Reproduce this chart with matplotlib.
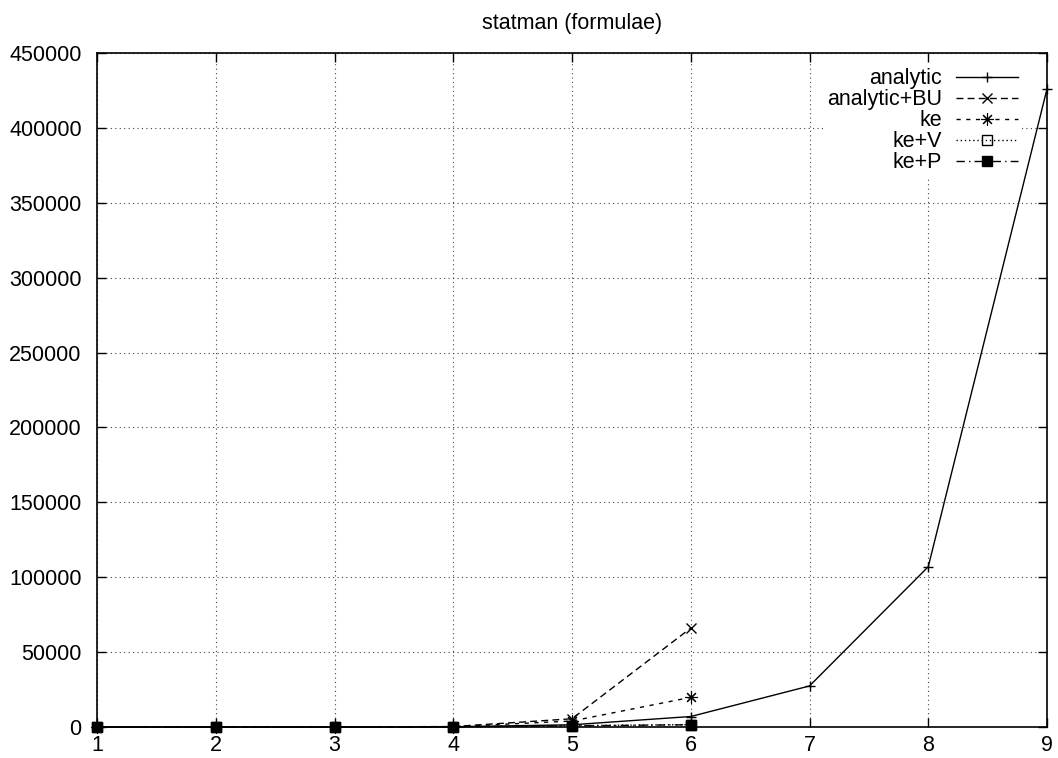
import numpy as np
import matplotlib as mpl
mpl.use('Agg')
import matplotlib.pyplot as plt

plt.rcParams['font.family'] = ['Liberation Sans', 'DejaVu Sans']

# values
x_analytic = [1, 2, 3, 4, 5, 6, 7, 8, 9]
y_analytic = [1, 2, 10, 120, 1500, 7000, 27400, 107000, 426000]

x_ke = [1, 2, 3, 4, 5, 6]
y_analytic_bu = [1, 3, 20, 300, 5500, 66000]
y_ke = [1, 3, 20, 250, 4000, 19800]
y_ke_v = [1, 2, 10, 100, 900, 1600]
y_ke_p = [1, 2, 10, 100, 800, 1500]

xticks = list(range(1, 10))
yticks = list(range(0, 450001, 50000))

fs = 15.5

fig = plt.figure(figsize=(10.58, 7.58), dpi=100)
ax = fig.add_axes([97/1058, 31/758, 950/1058, 674/758])

lw = 1.0
ax.plot(x_analytic, y_analytic, color='k', lw=lw, ls='-', marker='+', ms=7, mew=1, label='analytic', clip_on=False)
ax.plot(x_ke, y_analytic_bu, color='k', lw=lw, ls=(0, (5, 3)), marker='x', ms=6.5, mew=1, label='analytic+BU', clip_on=False)
ax.plot(x_ke, y_ke, color='k', lw=lw, ls=(0, (3, 4)), marker=(8, 2, 0), ms=9, mew=0.8, label='ke', clip_on=False)
ax.plot(x_ke, y_ke_v, color='k', lw=lw, ls=(0, (1, 2)), marker='s', ms=7.5, mfc='none', mew=1, label='ke+V', clip_on=False)
ax.plot(x_ke, y_ke_p, color='k', lw=lw, ls=(0, (6, 3, 1, 3)), marker='s', ms=7.5, mfc='k', mew=1, label='ke+P', clip_on=False)

ax.set_xlim(1, 9)
ax.set_ylim(0, 450000)
ax.set_xticks(xticks)
ax.set_yticks(yticks)
ax.tick_params(direction='in', length=6.5, top=True, right=True, labelsize=fs, width=1)
ax.tick_params(axis='y', pad=11)
ax.tick_params(axis='x', pad=6)
ax.grid(True, ls=(0, (1, 3)), color='#444444', lw=0.8)
for s in ax.spines.values():
    s.set_linewidth(1.2)

ax.set_title('statman (formulae)', fontsize=fs, pad=17)

leg = ax.legend(loc='upper right', bbox_to_anchor=(0.985, 1.0), markerfirst=False,
                fontsize=fs, handlelength=2.85, labelspacing=0.0, borderpad=0.2,
                frameon=True, fancybox=False, framealpha=1, edgecolor='none', facecolor='white',
                alignment='right', handletextpad=0.65)
for t in leg.get_texts():
    t.set_ha('right')

fig.savefig('out.png', dpi=100)
plt.close()
